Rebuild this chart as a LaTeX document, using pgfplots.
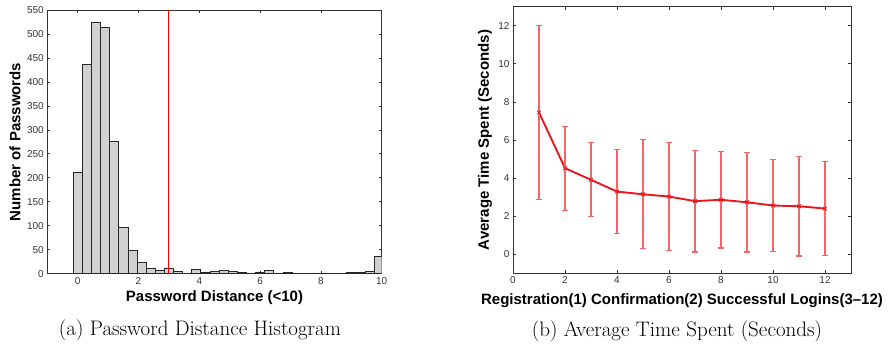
\documentclass[border=0pt]{standalone}
\usepackage{fontspec}
\usepackage{pgfplots}
\pgfplotsset{compat=1.18}
\newfontfamily\helv{Liberation Sans}
\newfontfamily\helvb{Liberation Sans Bold}
\definecolor{bargray}{gray}{0.82}
\definecolor{axgray}{gray}{0.2}
\definecolor{mred}{rgb}{0.9,0.1,0.12}
\definecolor{ered}{rgb}{0.95,0.4,0.42}
\pgfplotsset{
  mstyle/.style={
    scale only axis,
    axis line style={axgray, line width=0.9pt},
    tick align=inside,
    major tick length=3pt,
    tick style={axgray, line width=0.7pt},
    /pgf/number format/assume math mode=true,
    ticklabel style={font=\helv\fontsize{10}{10}\selectfont, text=black!80},
    label style={font=\helvb\fontsize{15}{15}\selectfont},
    xtick pos=both, ytick pos=both,
  }
}
\begin{document}
\begin{tikzpicture}
\useasboundingbox (0,0) rectangle (891pt,343pt);
\begin{axis}[mstyle,
  at={(47.3pt,69.3pt)}, anchor=south west,
  width=334.4pt, height=263.7pt,
  xmin=-1, xmax=10, ymin=0, ymax=550,
  xtick={0,2,4,6,8,10},
  ytick={0,50,100,150,200,250,300,350,400,450,500,550},
  xlabel={Password Distance (<10)},
  ylabel={Number of Passwords},
  xlabel style={at={(axis description cs:0.5,-0.106)}, anchor=base},
  ylabel style={at={(axis description cs:-0.0966,0.5)}, anchor=center},
]
\addplot[ybar, bar width=0.3, bar shift=0pt, fill=bargray, draw=black!85, line width=0.7pt] coordinates {
(0,212) (0.3,436) (0.6,524) (0.9,513) (1.2,276) (1.5,97) (1.8,48) (2.1,23)
(2.4,11) (2.7,7) (3.0,12) (3.3,5) (3.6,1) (3.9,9) (4.2,3) (4.5,5) (4.8,7)
(5.1,5) (5.4,3) (5.7,1) (6.0,3) (6.3,7) (6.6,1) (6.9,2) (7.2,1) (7.5,1)
(7.8,0) (8.1,1) (8.4,1) (8.7,0) (9.0,2) (9.3,2) (9.6,4) (9.9,36)
};
\addplot[sharp plot, draw=red, line width=1.0pt, no marks] coordinates {(3,0) (3,550)};
\end{axis}
\begin{axis}[mstyle,
  at={(513pt,69.7pt)}, anchor=south west,
  width=338pt, height=266.6pt,
  xmin=0, xmax=13, ymin=-1, ymax=13,
  xtick={0,2,4,6,8,10,12},
  ytick={0,2,4,6,8,10,12},
  xlabel={Registration(1) Confirmation(2) Successful Logins(3–12)},
  ylabel={Average Time Spent (Seconds)},
  xlabel style={at={(axis description cs:0.5,-0.1185)}, anchor=base},
  ylabel style={at={(axis description cs:-0.0828,0.5)}, anchor=center},
]
\addplot[color=mred, line width=1.9pt, mark=x, mark size=2.5pt,
  mark options={line width=0.9pt},
  error bars/.cd, y dir=both, y explicit,
  error bar style={draw=ered, line width=1.1pt},
  error mark options={rotate=90, draw=ered, mark size=3pt, line width=1.1pt}]
coordinates {
(1,7.45) +- (0,4.57)
(2,4.52) +- (0,2.21)
(3,3.91) +- (0,1.95)
(4,3.29) +- (0,2.20)
(5,3.15) +- (0,2.86)
(6,3.03) +- (0,2.83)
(7,2.79) +- (0,2.67)
(8,2.86) +- (0,2.53)
(9,2.73) +- (0,2.61)
(10,2.56) +- (0,2.42)
(11,2.52) +- (0,2.61)
(12,2.40) +- (0,2.45)
};
\end{axis}
\node[font=\fontsize{21}{21}\selectfont, anchor=base] at (200pt,8pt) {(a) Password Distance Histogram};
\node[font=\fontsize{21}{21}\selectfont, anchor=base] at (677pt,6.5pt) {(b) Average Time Spent (Seconds)};
\end{tikzpicture}
\end{document}
